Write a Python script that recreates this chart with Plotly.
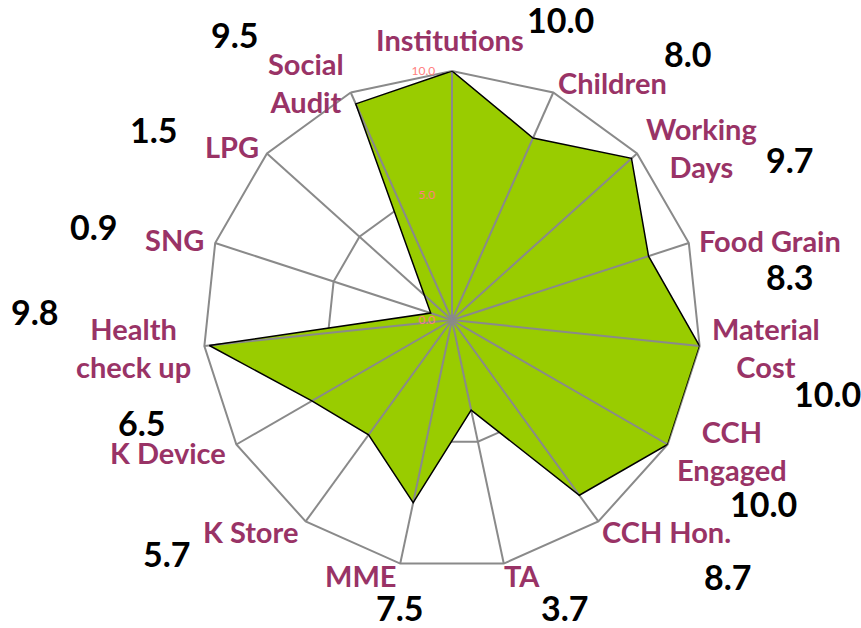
import plotly.graph_objects as go

# ---- data ----
categories = ["Institutions", "Children", "Working Days", "Food Grain", "Material Cost",
              "CCH Engaged", "CCH Hon.", "TA", "MME", "K Store", "K Device",
              "Health check up", "SNG", "LPG", "Social Audit"]
category_labels = ["Institutions", "Children", "Working<br>Days", "Food Grain", "Material<br>Cost",
                   "CCH<br>Engaged", "CCH Hon.", "TA", "MME", "K Store", "K Device",
                   "Health<br>check up", "SNG", "LPG", "Social<br>Audit"]
values = [10.0, 8.0, 9.7, 8.3, 10.0, 10.0, 8.7, 3.7, 7.5, 5.7, 6.5, 9.8, 0.9, 1.5, 9.5]
radial_ticks = [0, 5, 10]

# ---- layout geometry (pixels) ----
W, H = 861, 628
CX, CY, R = 452, 320, 249
ML, MT = CX - R, CY - R
MR, MB = W - (CX + R), H - (CY + R)

# label positions (pixel centres) for category names and value labels
cat_pos = [(450, 39), (612, 83), (701, 147), (770, 240), (766, 347), (732, 451), (666, 531),
           (522, 575), (361, 575), (250, 531), (168, 452), (133, 347), (174, 239), (232, 146),
           (306, 83)]
val_pos = [(560, 19), (688, 53), (790, 159), (790, 276), (827, 393), (763, 503), (728, 576),
           (565, 607), (400, 607), (167, 553), (142, 422), (35, 311), (94, 226), (154, 129),
           (235, 35)]

GRID = "#8a8a8a"
FILL = "#99CC00"
LABEL_COL = "#993366"
FONT = "Lato"


def px2paper(x, y):
    return (x - ML) / (2 * R), (CY + R - y) / (2 * R)


fig = go.Figure()

theta_closed = categories + [categories[0]]
r_closed = values + [values[0]]

# filled area (no outline)
fig.add_trace(go.Scatterpolar(r=r_closed, theta=theta_closed, mode="lines", fill="toself",
                              fillcolor=FILL, line=dict(width=0, color=FILL),
                              hoverinfo="skip", showlegend=False))
# spokes drawn above fill
sp_r, sp_t = [], []
for c in categories:
    sp_r += [0, radial_ticks[-1], None]
    sp_t += [c, c, None]
fig.add_trace(go.Scatterpolar(r=sp_r, theta=sp_t, mode="lines",
                              line=dict(color=GRID, width=2), hoverinfo="skip", showlegend=False))
# outline
fig.add_trace(go.Scatterpolar(r=r_closed, theta=theta_closed, mode="lines",
                              line=dict(color="black", width=1.5), showlegend=False))

annotations = []
for lab, (x, y) in zip(category_labels, cat_pos):
    xp, yp = px2paper(x, y)
    annotations.append(dict(text=lab, x=xp, y=yp, xref="paper", yref="paper",
                            xanchor="center", yanchor="middle", showarrow=False, align="center",
                            font=dict(family=FONT, size=29, color=LABEL_COL, weight="bold")))
for v, (x, y) in zip(values, val_pos):
    xp, yp = px2paper(x, y)
    annotations.append(dict(text=f"{v:.1f}", x=xp, y=yp, xref="paper", yref="paper",
                            xanchor="center", yanchor="middle", showarrow=False,
                            font=dict(family=FONT, size=34, color="black", weight="bold")))

fig.update_layout(
    width=W, height=H,
    margin=dict(l=ML, r=MR, t=MT, b=MB, pad=0),
    paper_bgcolor="white", plot_bgcolor="white",
    showlegend=False,
    polar=dict(
        domain=dict(x=[0, 1], y=[0, 1]),
        bgcolor="white",
        gridshape="linear",
        radialaxis=dict(range=[0, 10], tickvals=radial_ticks,
                        ticktext=[f"{t:.1f}" for t in radial_ticks],
                        showgrid=True, gridcolor=GRID, gridwidth=2,
                        showline=False, ticks="outside", ticklen=12,
                        tickcolor="rgba(0,0,0,0)", angle=90, side="counterclockwise",
                        tickangle=90,
                        tickfont=dict(family=FONT, size=12, color="#FF8080"),
                        layer="above traces"),
        angularaxis=dict(categoryorder="array", categoryarray=categories,
                         rotation=90, direction="clockwise",
                         showgrid=False, showline=True, linecolor=GRID, linewidth=2,
                         showticklabels=False, ticks="", layer="below traces"),
    ),
    annotations=annotations,
)

fig.write_html("out.html", config={"displayModeBar": False},
               post_script="document.body.style.margin='0';document.body.style.overflow='hidden';")
